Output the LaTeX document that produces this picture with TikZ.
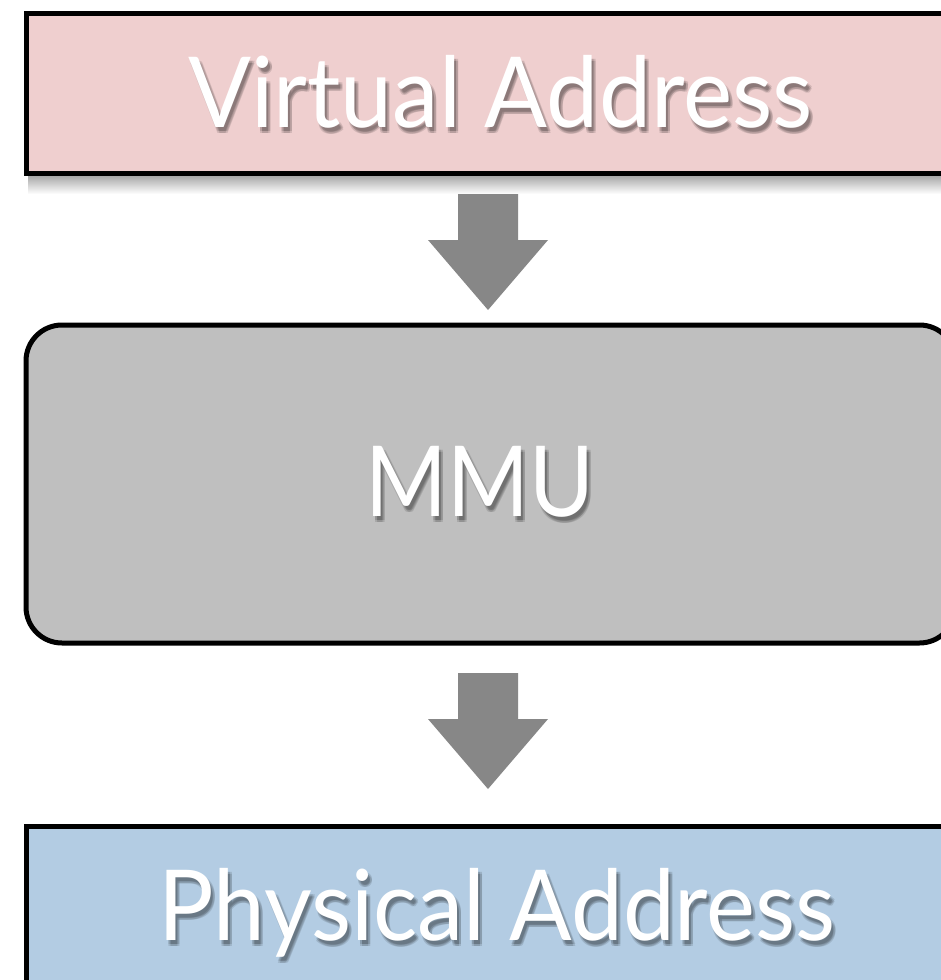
\documentclass[tikz,border=0pt]{standalone}
\usepackage{fontspec}
\setmainfont{Lato}
\usetikzlibrary{calc}

\definecolor{vapink}{HTML}{EFCFCF}
\definecolor{mmugray}{HTML}{BFBFBF}
\definecolor{pablue}{HTML}{B3CCE3}
\definecolor{arrowgray}{HTML}{878787}

\newcommand\capfont{\fontsize{98}{98}\selectfont}

\tikzset{
  stage/.style={draw=black, line width=5pt, inner sep=0pt, anchor=north west},
  caption/.style={text=white, font=\capfont, inner sep=0pt, anchor=base},
  captionshade/.style={text=black, text opacity=0.12, font=\capfont, inner sep=0pt, anchor=base},
  blockarrow/.pic={
    \fill[arrowgray] (-30,0) -- (30,0) -- (30,46) -- (60,46) -- (0,116)
      -- (-60,46) -- (-30,46) -- cycle;
  }
}

% white label with a soft drop shadow: name, position, horizontal scale, text
\newcommand\castlabel[4]{%
  \foreach \dx/\dy [count=\k] in {2/4,4/4,2/6,4/6}{
    \node[captionshade] (#1s\k) at ($(#2)+(\dx,\dy)$) {\scalebox{#3}[1]{#4}};
  }
  \node[caption] (#1) at (#2) {\scalebox{#3}[1]{#4}};
}

\begin{document}
\begin{tikzpicture}[x=1pt,y=-1pt]
  \useasboundingbox (0,0) rectangle (941,980);
  \clip (0,0) rectangle (941,980);
  \fill[white] (0,0) rectangle (941,980);

  % soft shadow under the first stage
  \shade[top color=black!45, bottom color=white] (28,170) rectangle (960,194);

  % stages
  \node[stage, fill=vapink, minimum width=936.5pt, minimum height=160pt]
        (va) at (23.5,10.5) {};
  \node[stage, fill=mmugray, rounded corners=36pt, minimum width=929.5pt, minimum height=318pt]
        (mmu) at (23.5,322.5) {};
  \node[stage, fill=pablue, minimum width=936.5pt, minimum height=200pt]
        (pa) at (23.5,823.5) {};

  % labels
  \coordinate (vaText) at (500.5,127);
  \coordinate (mmuText) at (480,516);
  \coordinate (paText) at (497,940);
  \castlabel{vaLabel}{vaText}{0.95}{Virtual Address}
  \castlabel{mmuLabel}{mmuText}{0.9}{MMU}
  \castlabel{paLabel}{paText}{0.945}{Physical Address}

  % block arrows between the stages
  \coordinate (arrowA) at (488,194);
  \coordinate (arrowB) at (488,673);
  \pic at (arrowA) {blockarrow};
  \pic at (arrowB) {blockarrow};
\end{tikzpicture}
\end{document}
